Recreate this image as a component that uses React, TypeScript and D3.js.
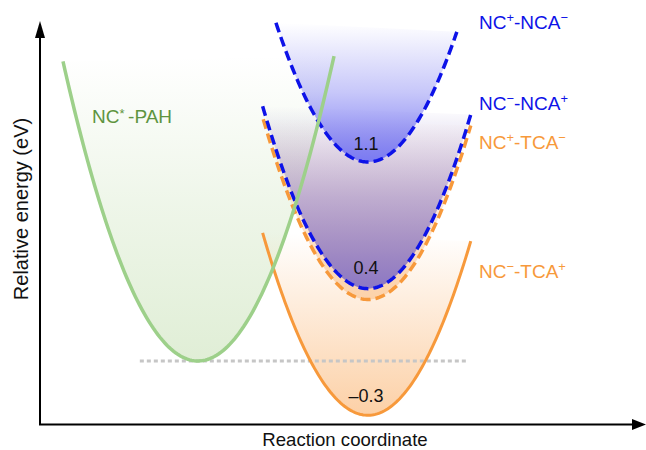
import React from "react";
import * as d3 from "d3";

// ---- data ----
const curveNames = ["NC*-PAH", "NC−-TCA+", "NC+-TCA−", "NC−-NCA+", "NC+-NCA−"];
const minEnergy = [0, -0.3, 0.34, 0.4, 1.1]; // eV
const centerX = [0.261, 0.542, 0.542, 0.542, 0.542]; // reaction coordinate
const leftX = [0.038, 0.368, 0.369, 0.368, 0.39];
const rightX = [0.486, 0.712, 0.712, 0.712, 0.689];
const curvature = 33.3; // eV per unit^2
const valueLabels = ["", "–0.3", "", "0.4", "1.1"];
const referenceEnergy = 0;
const refLineRange = [0.165, 0.706];

const W = 646;
const H = 450;

const FONT = "'Liberation Sans', Arial, Helvetica, sans-serif";

const lineColors = ["#9dd08a", "#f7993b", "#f7993b", "#0d12e8", "#0d12e8"];
const dashed = [false, false, true, true, true];
const widths = [3.5, 3, 3.5, 3.5, 3.5];
// colour, opacity at top, mid, bottom
const gradColor = ["#e0eed6", "#fcd0a6", "#fcd2aa", "#8c78c4", "#7a7af2"];
const gradOpac: [number, number, number][] = [
  [0, 0.55, 1],
  [0, 0.5, 1],
  [0, 0.45, 1],
  [0, 0.55, 1],
  [0, 0.42, 1],
];

export default function App() {
  const x = d3.scaleLinear().domain([0, 1]).range([40, 645]);
  const y = d3.scaleLinear().domain([0, 1.1]).range([361, 162]);

  const line = d3
    .line<[number, number]>()
    .x((d) => x(d[0]))
    .y((d) => y(d[1]));

  const curvePts = (i: number) => {
    const n = 120;
    const pts: [number, number][] = [];
    for (let k = 0; k <= n; k++) {
      const u = leftX[i] + ((rightX[i] - leftX[i]) * k) / n;
      pts.push([u, minEnergy[i] + curvature * (u - centerX[i]) ** 2]);
    }
    return pts;
  };

  const sup = (s: string, fs: number) => {
    const parts: React.ReactNode[] = [];
    let buf = "";
    let key = 0;
    let pendingDy = 0;
    const flush = () => {
      if (buf) {
        parts.push(
          <tspan key={key++} dy={pendingDy || undefined}>
            {buf}
          </tspan>
        );
        pendingDy = 0;
      }
      buf = "";
    };
    for (const ch of s) {
      if (ch === "+" || ch === "−" || ch === "*") {
        flush();
        const rise = ch === "*" ? 5 : 7;
        parts.push(
          <tspan key={key++} dy={-rise + pendingDy} fontSize={fs * 0.68}>
            {ch === "*" ? "* " : ch}
          </tspan>
        );
        pendingDy = rise;
      } else buf += ch;
    }
    flush();
    return parts;
  };

  const labelPos: [number, number][] = [
    [92, 123],
    [479, 278],
    [479, 149],
    [479, 110],
    [479, 29],
  ];
  const labelColors = ["#5e9440", "#f7993b", "#f7993b", "#0d12e8", "#0d12e8"];
  const valueBaseline = [0, 402, 0, 274, 150];

  const all = [0, 1, 2, 3, 4];
  const back = [1, 2, 3, 4];

  return (
    <svg
      width={W}
      height={H}
      style={{ position: "absolute", left: 0, top: 0, background: "#fff" }}
      fontFamily={FONT}
    >
      <defs>
        {all.map((i) => (
          <linearGradient key={i} id={`g${i}`} x1="0" y1="0" x2="0" y2="1">
            <stop offset="0" stopColor={gradColor[i]} stopOpacity={gradOpac[i][0]} />
            <stop offset="0.5" stopColor={gradColor[i]} stopOpacity={gradOpac[i][1]} />
            <stop offset="1" stopColor={gradColor[i]} stopOpacity={gradOpac[i][2]} />
          </linearGradient>
        ))}
      </defs>

      {/* fills */}
      {all.map((i) => (
        <path key={`f${i}`} d={(line(curvePts(i)) as string) + "Z"} fill={`url(#g${i})`} stroke="none" />
      ))}

      {/* reference dotted line */}
      <line
        x1={x(refLineRange[0])}
        x2={x(refLineRange[1])}
        y1={y(referenceEnergy)}
        y2={y(referenceEnergy)}
        stroke="#c6c6c6"
        strokeWidth={3}
        strokeDasharray="4 3"
      />

      {/* curves */}
      {back.map((i) => (
        <path
          key={`l${i}`}
          d={line(curvePts(i)) as string}
          fill="none"
          stroke={lineColors[i]}
          strokeWidth={widths[i]}
          strokeDasharray={dashed[i] ? "10 5" : undefined}
        />
      ))}
      <path d={line(curvePts(0)) as string} fill="none" stroke={lineColors[0]} strokeWidth={widths[0]} />

      {/* value labels */}
      {[1, 3, 4].map((i) => (
        <text key={`v${i}`} x={x(centerX[i]) - 2} y={valueBaseline[i]} textAnchor="middle" fontSize={18} fill="#111">
          {valueLabels[i]}
        </text>
      ))}

      {/* curve names */}
      {all.map((i) => (
        <text key={`n${i}`} x={labelPos[i][0]} y={labelPos[i][1]} fontSize={19} fill={labelColors[i]}>
          {sup(curveNames[i], 19)}
        </text>
      ))}

      {/* axes */}
      <line x1={40} y1={425} x2={40} y2={36} stroke="#000" strokeWidth={2} />
      <path d="M40,21 L35,38 L45,38 Z" fill="#000" />
      <line x1={39} y1={424.5} x2={633} y2={424.5} stroke="#000" strokeWidth={2} />
      <path d="M646,424.5 L632,419 L632,430 Z" fill="#000" />

      <text x={345} y={446} textAnchor="middle" fontSize={18.6} fill="#111">
        Reaction coordinate
      </text>
      <text transform="translate(28,209) rotate(-90)" textAnchor="middle" fontSize={20} fill="#111">
        Relative energy (eV)
      </text>
    </svg>
  );
}
